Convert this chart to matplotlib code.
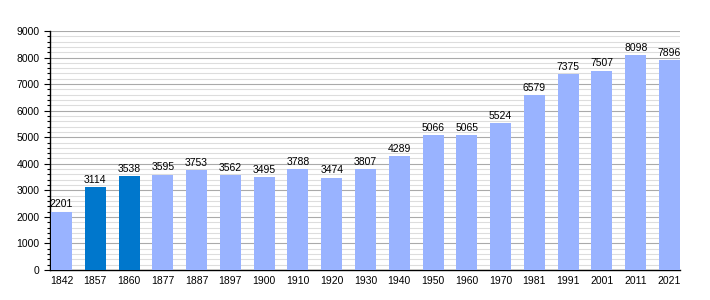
import numpy as np
import matplotlib.pyplot as plt
from matplotlib.ticker import MultipleLocator

plt.rc('font', family='Liberation Sans', size=7.5)

# data
years = ['1842', '1857', '1860', '1877', '1887', '1897', '1900', '1910', '1920', '1930',
         '1940', '1950', '1960', '1970', '1981', '1991', '2001', '2011', '2021']
population = [2201, 3114, 3538, 3595, 3753, 3562, 3495, 3788, 3474, 3807,
              4289, 5066, 5065, 5524, 6579, 7375, 7507, 8098, 7896]
highlight = ['1857', '1860']

light, dark = '#99b3ff', '#0077cc'
colors = [dark if y in highlight else light for y in years]

fig = plt.figure(figsize=(7.1, 3), dpi=100)
ax = fig.add_axes([50/710, 30/300, 630/710, 239/300])

x = np.arange(len(years))
w = 0.62
ax.bar(x, population, width=w, color=colors, zorder=3)
for xi, v in zip(x, population):
    ax.text(xi, v + 90, str(v), ha='center', va='bottom', fontsize=7.5, zorder=4)

ax.set_xlim(-w/2 - 0.03, len(years) - 1 + w/2)
ax.set_ylim(0, 9000)
ax.set_xticks(x)
ax.set_xticklabels(years)
ax.tick_params(axis='x', length=0, pad=4)
ax.yaxis.set_major_locator(MultipleLocator(1000))
ax.yaxis.set_minor_locator(MultipleLocator(200))
ax.tick_params(axis='y', which='major', length=4, width=0.8)
ax.tick_params(axis='y', which='minor', length=2, width=0.8)

ax.grid(axis='y', which='major', color='#aaaaaa', lw=0.8, zorder=0)
ax.grid(axis='y', which='minor', color='#dddddd', lw=0.8, zorder=0)
for s in ['top', 'right']:
    ax.spines[s].set_visible(False)
ax.spines['left'].set_linewidth(1)
ax.spines['bottom'].set_linewidth(1)

fig.savefig('out.png', dpi=100)
